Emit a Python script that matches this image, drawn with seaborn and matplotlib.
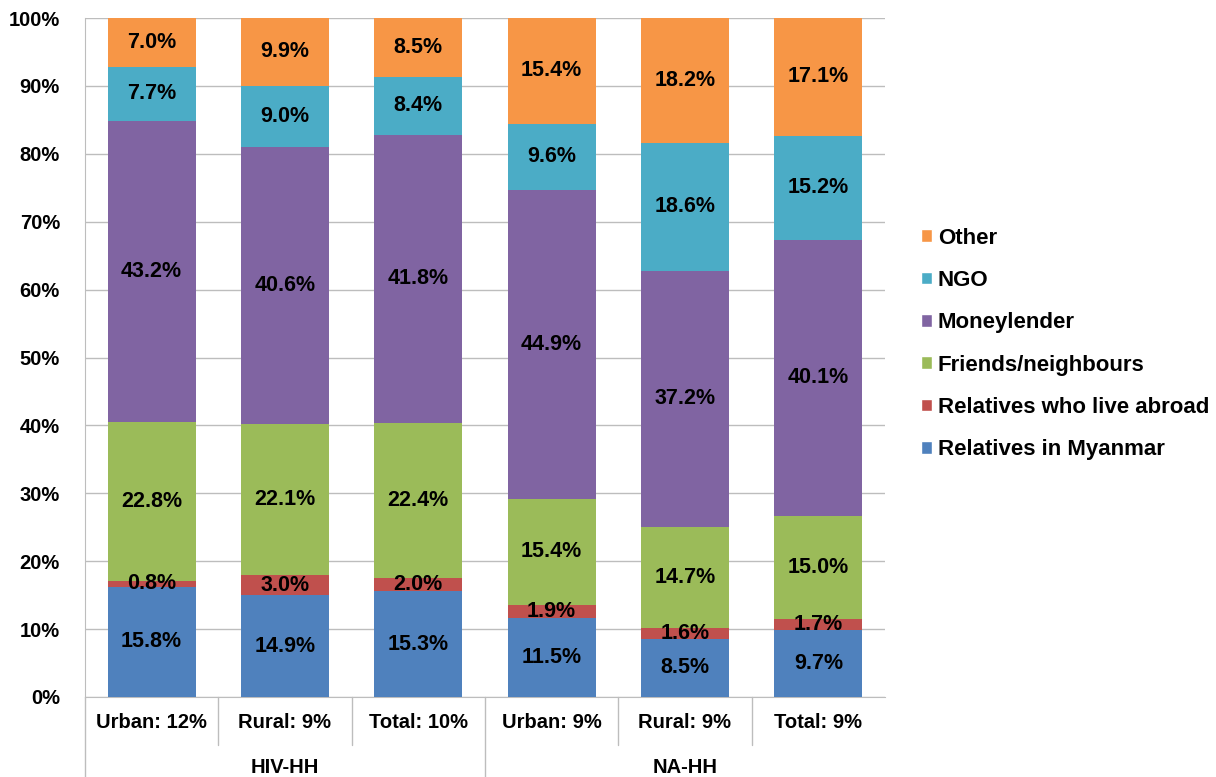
import numpy as np
import pandas as pd
import matplotlib.pyplot as plt
import matplotlib.transforms as mtransforms
from matplotlib.patches import Patch
import seaborn as sns

# categories along the x axis
categories = ["Urban: 12%", "Rural: 9%", "Total: 10%", "Urban: 9%", "Rural: 9%", "Total: 9%"]
groups = ["HIV-HH", "NA-HH"]

# stacked series, bottom to top (values as printed on the bars)
relatives_myanmar = [15.8, 14.9, 15.3, 11.5, 8.5, 9.7]
relatives_abroad = [0.8, 3.0, 2.0, 1.9, 1.6, 1.7]
friends = [22.8, 22.1, 22.4, 15.4, 14.7, 15.0]
moneylender = [43.2, 40.6, 41.8, 44.9, 37.2, 40.1]
ngo = [7.7, 9.0, 8.4, 9.6, 18.6, 15.2]
other = [7.0, 9.9, 8.5, 15.4, 18.2, 17.1]

series_names = ["Relatives in Myanmar", "Relatives who live abroad", "Friends/neighbours",
                "Moneylender", "NGO", "Other"]
series_values = [relatives_myanmar, relatives_abroad, friends, moneylender, ngo, other]
colors = ["#4f81bd", "#c0504d", "#9bbb59", "#8064a2", "#4bacc6", "#f79646"]

sns.set_style("white")
plt.rcParams['font.family'] = ['Liberation Sans', 'DejaVu Sans']
plt.rcParams['font.weight'] = 'bold'
plt.rcParams['text.color'] = 'black'
plt.rcParams['ytick.color'] = 'black'

df = pd.DataFrame(series_values, index=series_names).T
totals = df.sum(axis=1)
shares = df.div(totals, axis=0) * 100  # 100% stacked
pos = np.arange(len(categories))  # unique keys, since some labels repeat

fig = plt.figure(figsize=(12.16, 7.77), dpi=100)
ax = fig.add_axes([85 / 1216, 80 / 777, 800 / 1216, 679 / 777])

bottom = np.zeros(len(categories))
for name, color in zip(series_names, colors):
    sns.barplot(x=pos, y=shares[name].values, bottom=bottom, color=color, saturation=1,
                width=0.66, ax=ax, zorder=3, edgecolor="none")
    for i in range(len(categories)):
        ax.text(i, bottom[i] + shares[name].values[i] / 2, f"{df[name].values[i]:.1f}%",
                ha="center", va="center", fontsize=15.5, fontweight="bold", zorder=5)
    bottom = bottom + shares[name].values

ax.set_ylim(0, 100)
ax.set_xlim(-0.5, 5.5)
ax.set_yticks(np.arange(0, 101, 10))
ax.set_yticklabels([f"{v}%" for v in range(0, 101, 10)], fontsize=14.5, fontweight="bold")
ax.yaxis.grid(True, color="#bdbdbd", linewidth=1, zorder=0)
ax.tick_params(axis="y", length=0, pad=18)
ax.set_xticks([])
ax.set_xlabel("")
ax.set_ylabel("")
for s in ["top", "right"]:
    ax.spines[s].set_visible(False)
ax.spines["left"].set_color("#bdbdbd")
ax.spines["bottom"].set_color("#bdbdbd")

# two-level category axis
trans = mtransforms.blended_transform_factory(ax.transData, ax.transAxes)
for i, cat in enumerate(categories):
    ax.text(i, -0.037, cat, transform=trans, ha="center", va="center",
            fontsize=14.5, fontweight="bold")
for gi, g in enumerate(groups):
    ax.text(gi * 3 + 1, -0.104, g, transform=trans, ha="center", va="center",
            fontsize=14.5, fontweight="bold")
for xs in [0.5, 1.5, 3.5, 4.5]:
    ax.plot([xs, xs], [0, -0.071], transform=trans, color="#bdbdbd", lw=1, clip_on=False)
for xs in [-0.5, 2.5]:
    ax.plot([xs, xs], [0, -0.118], transform=trans, color="#bdbdbd", lw=1, clip_on=False)

handles = [Patch(facecolor=c, label=n) for n, c in zip(series_names, colors)]
ax.legend(handles=handles[::-1], loc="center left", bbox_to_anchor=(1.045, 0.52),
          frameon=False, handlelength=0.5, handleheight=0.5,
          handletextpad=0.25, labelspacing=0.96, borderaxespad=0, borderpad=0,
          prop={"weight": "bold", "size": 16})

fig.savefig("out.png", dpi=100)
